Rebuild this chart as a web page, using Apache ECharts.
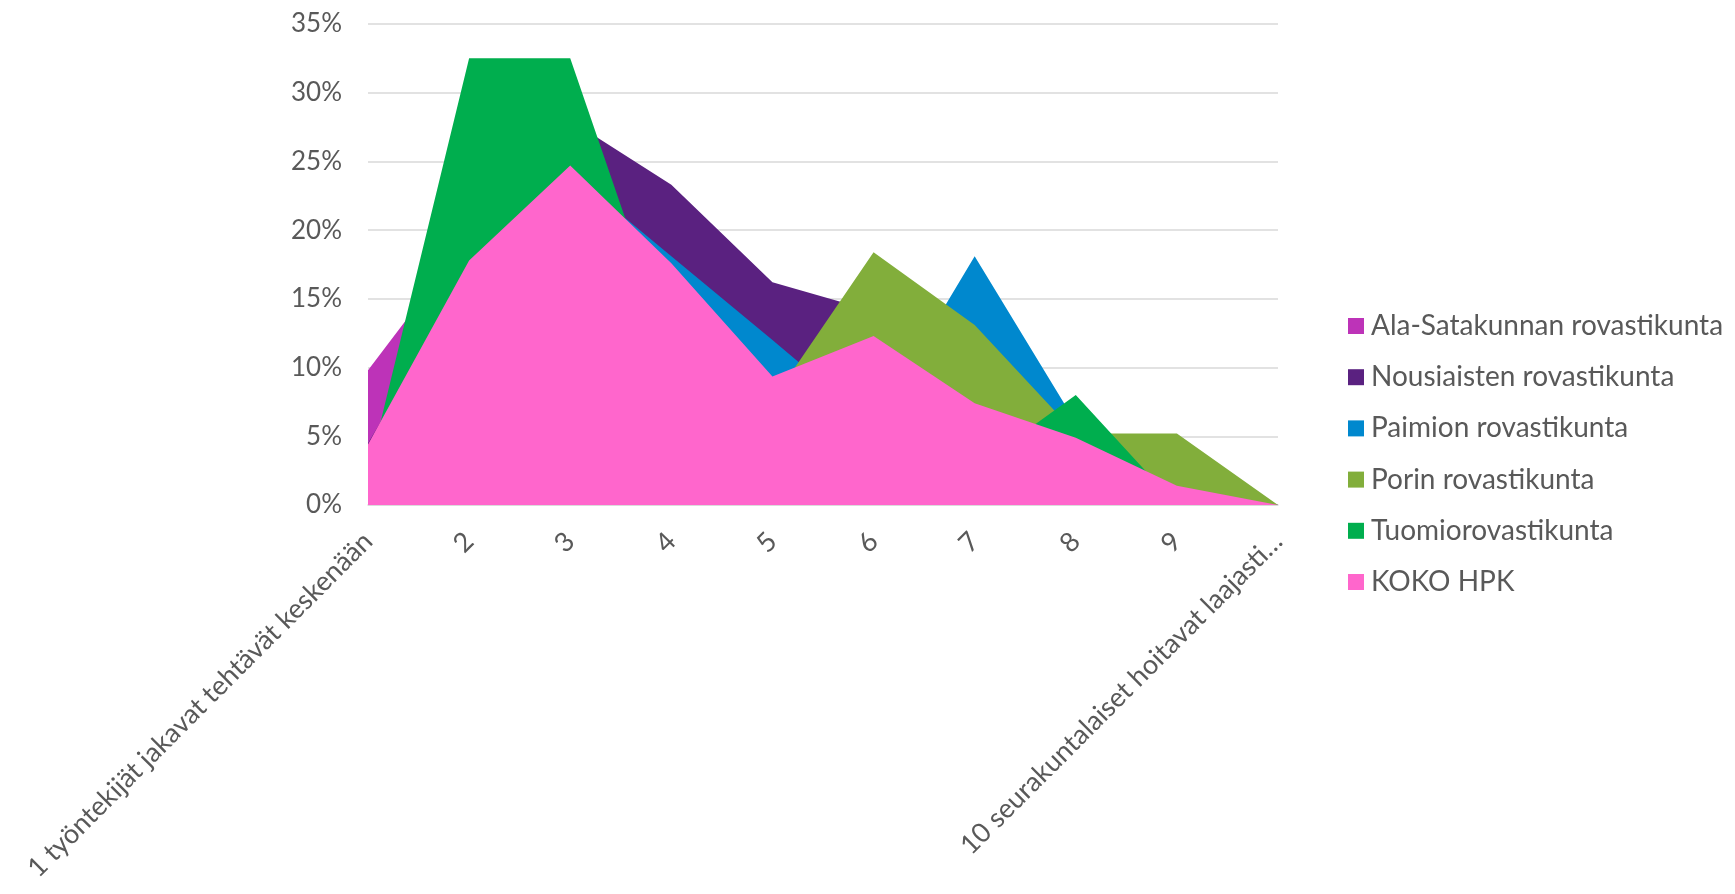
<!DOCTYPE html>
<html>
<head>
<meta charset="utf-8">
<script src="https://cdn.jsdelivr.net/npm/echarts@6/dist/echarts.min.js"></script>
<style>
html,body{margin:0;padding:0;background:#fff;}
#chart{width:1735px;height:894px;}
</style>
</head>
<body>
<div id="chart"></div>
<script>
const categories = ['1 työntekijät jakavat tehtävät keskenään','2','3','4','5','6','7','8','9','10 seurakuntalaiset hoitavat laajasti…'];
const seriesNames = ['Ala-Satakunnan rovastikunta','Nousiaisten rovastikunta','Paimion rovastikunta','Porin rovastikunta','Tuomiorovastikunta','KOKO HPK'];
const alaSatakunta = [9.8, 19.5, 20, 15, 10, 10, 8, 4, 2, 0];
const nousiainen   = [4.5, 17, 28, 23.3, 16.2, 14.1, 9, 4, 2, 0];
const paimio       = [3, 15, 24.2, 18.1, 12.0, 5.8, 18.1, 6.0, 2, 0];
const pori         = [3, 15, 20, 12, 7.6, 18.4, 13.1, 5.2, 5.2, 0];
const tuomio       = [2.3, 32.5, 32.5, 11.1, 6, 5, 2.7, 8.0, 0, 0];
const kokoHpk      = [4.4, 17.8, 24.7, 17.6, 9.35, 12.3, 7.4, 4.9, 1.4, 0];
const yTicks = [0, 5, 10, 15, 20, 25, 30, 35];

const colors = ['#BD33B8','#5A2180','#0088CE','#82AE3B','#00AE4E','#FF66CC'];
const values = [alaSatakunta, nousiainen, paimio, pori, tuomio, kokoHpk];
const FONT = 'Lato, "Open Sans", sans-serif';

const chart = echarts.init(document.getElementById('chart'), null, {renderer:'canvas'});
chart.setOption({
  animation: false,
  color: colors,
  grid: {left: 368, right: 457, top: 24, bottom: 389, containLabel: false},
  legend: {
    orient: 'vertical',
    left: 1343,
    top: 306,
    icon: 'rect',
    itemWidth: 16,
    itemHeight: 16,
    itemGap: 21.2,
    textStyle: {fontFamily: FONT, fontSize: 28, color: '#595959', lineHeight: 30, padding: [0,0,0,2]},
    data: seriesNames
  },
  xAxis: {
    type: 'category',
    data: categories,
    boundaryGap: false,
    axisLine: {show: true, lineStyle: {color: '#D9D9D9', width: 1.5}},
    axisTick: {show: false},
    axisLabel: {rotate: 45, interval: 0, margin: 32, fontFamily: FONT, fontSize: 27, color: '#595959'}
  },
  yAxis: {
    type: 'value',
    min: yTicks[0],
    max: yTicks[yTicks.length-1],
    interval: 5,
    axisLine: {show: false},
    axisTick: {show: false},
    splitLine: {show: true, lineStyle: {color: '#D9D9D9', width: 1.5}},
    axisLabel: {formatter: '{value}%', margin: 26, fontFamily: FONT, fontSize: 26, color: '#595959'}
  },
  series: seriesNames.map((n, i) => ({
    name: n,
    type: 'line',
    data: values[i],
    symbol: 'none',
    smooth: false,
    lineStyle: {width: 0, color: colors[i]},
    itemStyle: {color: colors[i]},
    areaStyle: {color: colors[i], opacity: 1},
    z: 2
  }))
});
</script>
</body>
</html>
